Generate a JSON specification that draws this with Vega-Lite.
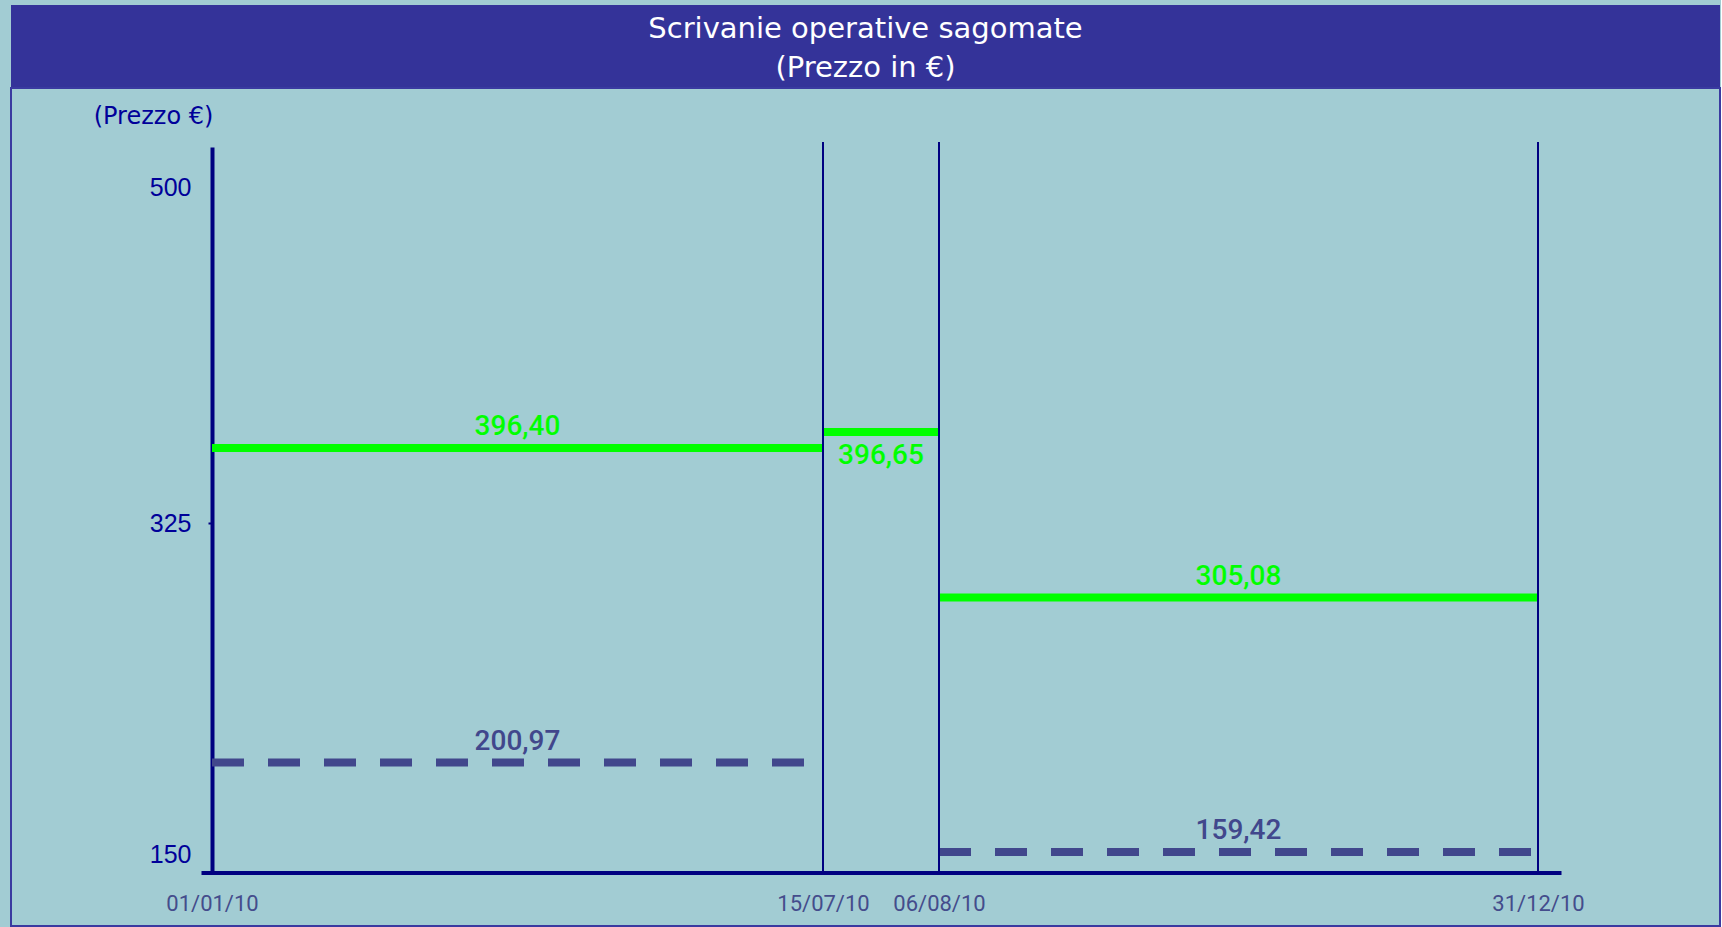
{
  "$schema": "https://vega.github.io/schema/vega-lite/v6.json",
  "autosize": {"type": "pad"},
  "padding": {"left": 10, "top": 5, "right": 0, "bottom": 0},
  "background": "#A2CCD3",
  "config": {
    "locale": {"number": {"decimal": ",", "thousands": ".", "grouping": [3], "currency": ["€", ""]}}
  },
  "datasets": {
    "prezzi": [
      {"periodo": 1, "inizio": "2010-01-01", "fine": "2010-07-15", "tipo": "massimo", "prezzo": 396.40},
      {"periodo": 2, "inizio": "2010-07-15", "fine": "2010-08-06", "tipo": "massimo", "prezzo": 396.65},
      {"periodo": 3, "inizio": "2010-08-06", "fine": "2010-12-31", "tipo": "massimo", "prezzo": 305.08},
      {"periodo": 1, "inizio": "2010-01-01", "fine": "2010-07-15", "tipo": "minimo", "prezzo": 200.97},
      {"periodo": 3, "inizio": "2010-08-06", "fine": "2010-12-31", "tipo": "minimo", "prezzo": 159.42}
    ],
    "confini": [
      {"giorno": "2010-07-15"},
      {"giorno": "2010-08-06"},
      {"giorno": "2010-12-31"}
    ],
    "intestazione": [
      {"titolo": "Scrivanie operative sagomate\n(Prezzo in €)"}
    ]
  },
  "spacing": 0,
  "bounds": "flush",
  "vconcat": [
    {
      "width": 1709,
      "height": 83,
      "view": {"fill": "#343399", "stroke": null},
      "data": {"name": "intestazione"},
      "mark": {"type": "text", "color": "#FFFFFF", "font": "DejaVu Sans", "fontSize": 29, "lineHeight": 39, "lineBreak": "\n", "align": "center", "baseline": "middle", "dy": -17.5},
      "encoding": {"text": {"field": "titolo", "type": "nominal"}}
    },
    {
      "width": 1709,
      "height": 838,
      "view": {"fill": "#A2CCD3", "stroke": "#3A3AA0", "strokeWidth": 2},
      "layer": [
        {
          "data": {"name": "prezzi"},
          "transform": [
            {"calculate": "toNumber(toDate(datum.inizio))", "as": "t_inizio"},
            {"calculate": "toNumber(toDate(datum.fine))", "as": "t_fine"}
          ],
          "mark": {"type": "rule", "strokeWidth": 8, "strokeCap": "butt"},
          "encoding": {
            "x": {
              "field": "t_inizio", "type": "quantitative",
              "scale": {"zero": false, "nice": false,
                "domain": [1262044800000, 1262304000000, 1279152000000, 1281052800000, 1293753600000, 1294272000000],
                "range": [190, 201, 812, 928, 1527, 1550]},
              "axis": {
                "orient": "bottom", "offset": -53.5, "title": null, "grid": false,
                "values": [1262304000000, 1279152000000, 1281052800000, 1293753600000],
                "labelExpr": "utcFormat(datum.value, '%d/%m/%y')",
                "domainColor": "#000080", "domainWidth": 4,
                "ticks": false, "tickSize": 0,
                "labelFont": "Roboto", "labelFontSize": 22, "labelColor": "#444C8C",
                "labelPadding": 31, "labelBaseline": "middle", "labelFlush": false, "labelOverlap": false
              }
            },
            "x2": {"field": "t_fine"},
            "y": {
              "field": "prezzo", "type": "quantitative",
              "scale": {"zero": false, "nice": false,
                "domain": [140, 150, 159.42, 200.97, 305.08, 325, 396.4, 396.65, 500, 520],
                "range": [785, 766, 764, 674.5, 509.5, 435, 360, 344, 99, 59]},
              "axis": {
                "orient": "left", "offset": -201, "grid": false,
                "values": [150, 325, 500], "format": "d",
                "title": "(Prezzo €)", "titleAngle": 0, "titleX": -59, "titleY": 28,
                "titleAlign": "center", "titleBaseline": "middle",
                "titleFont": "DejaVu Sans", "titleFontSize": 24, "titleFontWeight": "normal", "titleColor": "#000099",
                "domainColor": "#000080", "domainWidth": 4,
                "tickColor": "#000080", "tickSize": 4, "tickWidth": 2,
                "tickOpacity": {"condition": {"test": "datum.value == 325", "value": 1}, "value": 0},
                "labelFont": "Liberation Sans", "labelFontSize": 25, "labelColor": "#000099",
                "labelPadding": 17, "labelBaseline": "middle", "labelFlush": false, "labelOverlap": false
              }
            },
            "color": {"field": "tipo", "type": "nominal", "scale": {"domain": ["massimo", "minimo"], "range": ["#00FF00", "#41478C"]}, "legend": null},
            "strokeDash": {"field": "tipo", "type": "nominal", "scale": {"domain": ["massimo", "minimo"], "range": [[1, 0], [32, 24]]}, "legend": null}
          }
        },
        {
          "data": {"name": "confini"},
          "transform": [
            {"calculate": "toNumber(toDate(datum.giorno))", "as": "t_giorno"}
          ],
          "mark": {"type": "rule", "strokeWidth": 2, "color": "#000080"},
          "encoding": {
            "x": {
              "field": "t_giorno", "type": "quantitative",
              "scale": {"zero": false, "nice": false,
                "domain": [1262044800000, 1262304000000, 1279152000000, 1281052800000, 1293753600000, 1294272000000],
                "range": [190, 201, 812, 928, 1527, 1550]}
            },
            "y": {
              "datum": 140, "type": "quantitative",
              "scale": {"zero": false, "nice": false,
                "domain": [140, 150, 159.42, 200.97, 305.08, 325, 396.4, 396.65, 500, 520],
                "range": [785, 766, 764, 674.5, 509.5, 435, 360, 344, 99, 59]}
            },
            "y2": {"datum": 522.5}
          }
        },
        {
          "data": {"name": "prezzi"},
          "transform": [
            {"filter": "datum.periodo != 2"},
            {"calculate": "(toNumber(toDate(datum.inizio)) + toNumber(toDate(datum.fine))) / 2", "as": "centro"}
          ],
          "mark": {"type": "text", "font": "Roboto", "fontSize": 28, "fontWeight": 500, "align": "center", "baseline": "alphabetic", "dy": -13},
          "encoding": {
            "x": {
              "field": "centro", "type": "quantitative",
              "scale": {"zero": false, "nice": false,
                "domain": [1262044800000, 1262304000000, 1279152000000, 1281052800000, 1293753600000, 1294272000000],
                "range": [190, 201, 812, 928, 1527, 1550]}
            },
            "y": {
              "field": "prezzo", "type": "quantitative",
              "scale": {"zero": false, "nice": false,
                "domain": [140, 150, 159.42, 200.97, 305.08, 325, 396.4, 396.65, 500, 520],
                "range": [785, 766, 764, 674.5, 509.5, 435, 360, 344, 99, 59]}
            },
            "text": {"field": "prezzo", "type": "quantitative", "format": ".2f"},
            "color": {"field": "tipo", "type": "nominal", "scale": {"domain": ["massimo", "minimo"], "range": ["#00FF00", "#41478C"]}, "legend": null}
          }
        },
        {
          "data": {"name": "prezzi"},
          "transform": [
            {"filter": "datum.periodo == 2"},
            {"calculate": "(toNumber(toDate(datum.inizio)) + toNumber(toDate(datum.fine))) / 2", "as": "centro"}
          ],
          "mark": {"type": "text", "font": "Roboto", "fontSize": 28, "fontWeight": 500, "align": "center", "baseline": "alphabetic", "dy": 32},
          "encoding": {
            "x": {
              "field": "centro", "type": "quantitative",
              "scale": {"zero": false, "nice": false,
                "domain": [1262044800000, 1262304000000, 1279152000000, 1281052800000, 1293753600000, 1294272000000],
                "range": [190, 201, 812, 928, 1527, 1550]}
            },
            "y": {
              "field": "prezzo", "type": "quantitative",
              "scale": {"zero": false, "nice": false,
                "domain": [140, 150, 159.42, 200.97, 305.08, 325, 396.4, 396.65, 500, 520],
                "range": [785, 766, 764, 674.5, 509.5, 435, 360, 344, 99, 59]}
            },
            "text": {"field": "prezzo", "type": "quantitative", "format": ".2f"},
            "color": {"field": "tipo", "type": "nominal", "scale": {"domain": ["massimo", "minimo"], "range": ["#00FF00", "#41478C"]}, "legend": null}
          }
        }
      ]
    }
  ]
}
